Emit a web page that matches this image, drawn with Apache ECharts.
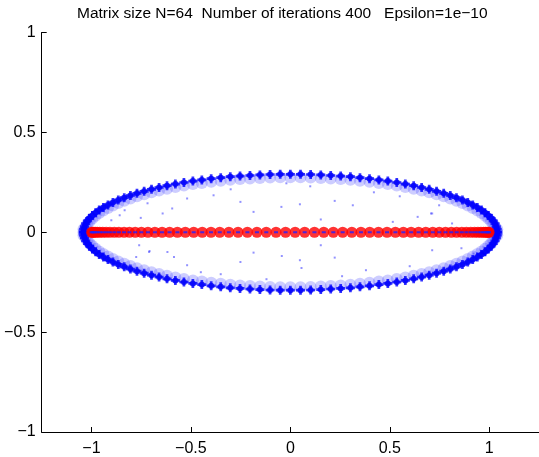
<!DOCTYPE html>
<html>
<head>
<meta charset="utf-8">
<script src="https://cdn.jsdelivr.net/npm/echarts@6/dist/echarts.min.js"></script>
<style>
html,body{margin:0;padding:0;background:#fff;}
#chart{width:539px;height:457px;}
</style>
</head>
<body>
<div id="chart"></div>
<script>
// Title text
const titleText = 'Matrix size N=64  Number of iterations 400   Epsilon=1e\u221210';

// Tick values
const xTicks = [-1, -0.5, 0, 0.5, 1];
const yTicks = [-1, -0.5, 0, 0.5, 1];

const eigX = [-0.999, -0.995, -0.990, -0.981, -0.971, -0.958, -0.943, -0.926, -0.907, -0.885,
  -0.862, -0.836, -0.809, -0.780, -0.749, -0.716, -0.681, -0.645, -0.607, -0.568,
  -0.528, -0.486, -0.443, -0.399, -0.355, -0.309, -0.263, -0.216, -0.168, -0.121,
  -0.072, -0.024, 0.024, 0.072, 0.121, 0.168, 0.216, 0.263, 0.309, 0.355,
  0.399, 0.443, 0.486, 0.528, 0.568, 0.607, 0.645, 0.681, 0.716, 0.749,
  0.780, 0.809, 0.836, 0.862, 0.885, 0.907, 0.926, 0.943, 0.958, 0.971,
  0.981, 0.990, 0.995, 0.999];
const eigY = [0,0,0,0,0,0,0,0,0,0,0,0,0,0,0,0,0,0,0,0,0,0,0,0,0,0,0,0,0,0,0,0,
  0,0,0,0,0,0,0,0,0,0,0,0,0,0,0,0,0,0,0,0,0,0,0,0,0,0,0,0,0,0,0,0];

// Blue clusters of perturbed eigenvalues on the ellipse
const clusterX = [-1.040, -1.039, -1.035, -1.029, -1.020, -1.009, -0.995, -0.979, -0.961, -0.940,
  -0.917, -0.892, -0.865, -0.835, -0.804, -0.771, -0.735, -0.698, -0.660, -0.620,
  -0.578, -0.535, -0.490, -0.445, -0.398, -0.350, -0.302, -0.253, -0.203, -0.153,
  -0.102, -0.051, 0, 0.051, 0.102, 0.153, 0.203, 0.253, 0.302, 0.350,
  0.398, 0.445, 0.490, 0.535, 0.578, 0.620, 0.660, 0.698, 0.735, 0.771,
  0.804, 0.835, 0.865, 0.892, 0.917, 0.940, 0.961, 0.979, 0.995, 1.009,
  1.020, 1.029, 1.035, 1.039, 1.040];
const clusterYTop = [0, 0.014, 0.028, 0.043, 0.057, 0.070, 0.084, 0.098, 0.111, 0.124,
  0.137, 0.149, 0.161, 0.173, 0.184, 0.195, 0.205, 0.215, 0.224, 0.233,
  0.241, 0.249, 0.256, 0.262, 0.268, 0.273, 0.278, 0.281, 0.284, 0.287,
  0.289, 0.290, 0.290, 0.290, 0.289, 0.287, 0.284, 0.281, 0.278, 0.273,
  0.268, 0.262, 0.256, 0.249, 0.241, 0.233, 0.224, 0.215, 0.205, 0.195,
  0.184, 0.173, 0.161, 0.149, 0.137, 0.124, 0.111, 0.098, 0.084, 0.070,
  0.057, 0.043, 0.028, 0.014, 0];
const clusterYBottom = [0, -0.014, -0.028, -0.043, -0.057, -0.070, -0.084, -0.098, -0.111, -0.124,
  -0.137, -0.149, -0.161, -0.173, -0.184, -0.195, -0.205, -0.215, -0.224, -0.233,
  -0.241, -0.249, -0.256, -0.262, -0.268, -0.273, -0.278, -0.281, -0.284, -0.287,
  -0.289, -0.290, -0.290, -0.290, -0.289, -0.287, -0.284, -0.281, -0.278, -0.273,
  -0.268, -0.262, -0.256, -0.249, -0.241, -0.233, -0.224, -0.215, -0.205, -0.195,
  -0.184, -0.173, -0.161, -0.149, -0.137, -0.124, -0.111, -0.098, -0.084, -0.070,
  -0.057, -0.043, -0.028, -0.014, 0];

// Scattered stray blue dots inside the ellipse
const strayX = [-0.251, -0.185, -0.045, 0.048, 0.153, 0.223, 0.314, 0.153, -0.043, -0.185,
  0.048, 0.056, 0.223, -0.251, -0.858, -0.833, -0.708, -0.775, -0.642, -0.718,
  -0.752, -0.594, -0.386, -0.519, 0.713, 0.713, 0.813, 0.921, 0.640, 0.707,
  0.748, 0.515, -0.760, -0.710, -0.618, -0.519, -0.585, 0.420, 0.380, -0.350,
  -0.300, 0.600, 0.550, -0.450, 0.100, -0.120, 0.860, -0.900, 0.260, -0.020];
const strayY = [0.152, 0.102, 0.127, 0.140, 0.064, 0.157, 0.135, -0.065, -0.119, -0.102,
  -0.140, -0.179, -0.127, -0.149, 0.085, 0.110, -0.094, -0.124, 0.094, 0.145,
  0.072, 0.119, 0.185, 0.169, 0.094, -0.090, 0.044, -0.107, 0.077, 0.094,
  0.135, 0.052, -0.065, -0.099, -0.099, -0.165, -0.124, 0.200, -0.190, -0.210,
  0.215, -0.170, 0.180, -0.200, 0.230, -0.235, -0.080, 0.060, -0.220, 0.245];

function pairs(xs, ys) { return xs.map((x, i) => [x, ys[i]]); }
function fmt(v) {
  if (Math.abs(v) < 1e-9) return '0';
  return v < 0 ? '\u2212' + String(Math.abs(v)) : String(v);
}

const plusPath = 'path://M3.5,0h3v3.5h3.5v3h-3.5v3.5h-3v-3.5h-3.5v-3h3.5z';
const font = "'Liberation Sans', Arial, Helvetica, sans-serif";

const chart = echarts.init(document.getElementById('chart'), null, {renderer: 'canvas'});
chart.setOption({
  animation: false,
  backgroundColor: '#ffffff',
  title: {
    text: titleText,
    left: 77, top: 6, padding: 0,
    textStyle: {fontFamily: font, fontSize: 15.5, fontWeight: 'normal', color: '#000'}
  },
  grid: {left: 41.7, top: 32.5, width: 501, height: 400, containLabel: false},
  xAxis: {
    type: 'value', min: -1.25, max: 1.25, interval: 0.25,
    axisLine: {onZero: false, lineStyle: {color: '#000', width: 1}},
    axisTick: {inside: true, length: 5, customValues: xTicks, lineStyle: {color: '#000'}},
    axisLabel: {customValues: xTicks, formatter: fmt, margin: 9, color: '#000', fontFamily: font, fontSize: 16},
    splitLine: {show: false}
  },
  yAxis: {
    type: 'value', min: -1, max: 1, interval: 0.5,
    axisLine: {show: true, onZero: false, lineStyle: {color: '#000', width: 1}},
    axisTick: {show: true, inside: true, length: 5, customValues: yTicks, lineStyle: {color: '#000'}},
    axisLabel: {customValues: yTicks, formatter: fmt, margin: 6, color: '#000', fontFamily: font, fontSize: 16},
    splitLine: {show: false}
  },
  series: [
    {type: 'scatter', data: pairs(clusterX, clusterYTop), symbol: 'circle', symbolSize: 12,
      symbolOffset: [0, 3], itemStyle: {color: 'rgba(60,60,255,0.32)'}, z: 1},
    {type: 'scatter', data: pairs(clusterX, clusterYBottom), symbol: 'circle', symbolSize: 12,
      symbolOffset: [0, -3], itemStyle: {color: 'rgba(60,60,255,0.32)'}, z: 1},
    {type: 'scatter', data: pairs(strayX, strayY), symbol: 'rect', symbolSize: 2,
      itemStyle: {color: 'rgba(60,60,255,0.7)'}, z: 2},
    {type: 'scatter', data: pairs(clusterX, clusterYTop), symbol: 'circle', symbolSize: 6,
      itemStyle: {color: '#0000ee'}, z: 3},
    {type: 'scatter', data: pairs(clusterX, clusterYBottom), symbol: 'circle', symbolSize: 6,
      itemStyle: {color: '#0000ee'}, z: 3},
    {type: 'scatter', data: pairs(clusterX, clusterYTop), symbol: plusPath, symbolSize: 9,
      itemStyle: {color: '#0000ff'}, z: 3},
    {type: 'scatter', data: pairs(clusterX, clusterYBottom), symbol: plusPath, symbolSize: 9,
      itemStyle: {color: '#0000ff'}, z: 3},
    {type: 'scatter', data: pairs(eigX, eigY), symbol: 'circle', symbolSize: 11,
      itemStyle: {color: '#ff0000'}, z: 4},
    {type: 'scatter', data: pairs(eigX, eigY), symbol: 'rect', symbolSize: [4, 2],
      itemStyle: {color: '#2020ff'}, z: 5}
  ]
});
</script>
</body>
</html>
